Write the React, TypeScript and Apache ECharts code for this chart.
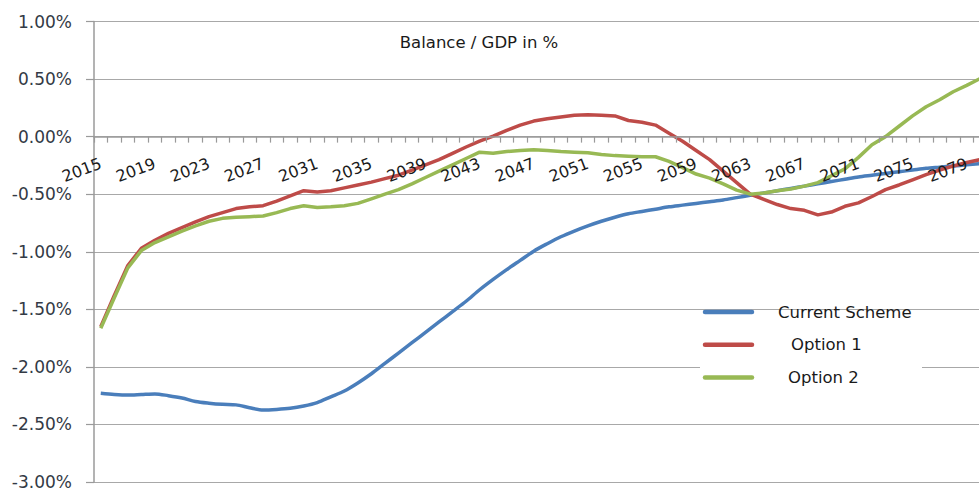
import React, { useEffect, useRef } from "react";
import * as echarts from "echarts";

const years = [
  "2015", "2016", "2017", "2018", "2019", "2020", "2021", "2022", "2023", "2024",
  "2025", "2026", "2027", "2028", "2029", "2030", "2031", "2032", "2033", "2034",
  "2035", "2036", "2037", "2038", "2039", "2040", "2041", "2042", "2043", "2044",
  "2045", "2046", "2047", "2048", "2049", "2050", "2051", "2052", "2053", "2054",
  "2055", "2056", "2057", "2058", "2059", "2060", "2061", "2062", "2063", "2064",
  "2065", "2066", "2067", "2068", "2069", "2070", "2071", "2072", "2073", "2074",
  "2075", "2076", "2077", "2078", "2079", "2080",
];

const currentScheme = [
  -2.23, -2.24, -2.245, -2.24, -2.235, -2.25, -2.27, -2.3, -2.315, -2.325,
  -2.33, -2.355, -2.375, -2.37, -2.36, -2.34, -2.31, -2.26, -2.21, -2.14,
  -2.06, -1.97, -1.88, -1.79, -1.7, -1.61, -1.52, -1.43, -1.33, -1.24,
  -1.155, -1.075, -0.995, -0.93, -0.87, -0.82, -0.775, -0.735, -0.7, -0.67,
  -0.65, -0.63, -0.61, -0.595, -0.58, -0.565, -0.55, -0.53, -0.51, -0.49,
  -0.47, -0.45, -0.43, -0.41, -0.39, -0.37, -0.35, -0.335, -0.32, -0.305,
  -0.29, -0.275, -0.265, -0.255, -0.245, -0.235,
];

const option1 = [
  -1.65, -1.38, -1.12, -0.97, -0.9, -0.84, -0.79, -0.74, -0.695, -0.66,
  -0.625, -0.61, -0.6, -0.56, -0.515, -0.47, -0.48, -0.47, -0.445, -0.42,
  -0.395, -0.365, -0.335, -0.29, -0.245, -0.2, -0.145, -0.09, -0.04, 0.005,
  0.055, 0.1, 0.135, 0.155, 0.17, 0.185, 0.19, 0.185, 0.18, 0.14,
  0.125, 0.1, 0.03, -0.04, -0.12, -0.2, -0.3, -0.4, -0.5, -0.545,
  -0.59, -0.625, -0.64, -0.68, -0.655, -0.605, -0.575, -0.52, -0.46, -0.42,
  -0.375, -0.33, -0.29, -0.255, -0.225, -0.2,
];

const option2 = [
  -1.665, -1.4, -1.14, -0.99, -0.92, -0.87, -0.82, -0.775, -0.735, -0.71,
  -0.7, -0.695, -0.69, -0.66, -0.625, -0.6, -0.615, -0.61, -0.6, -0.58,
  -0.54, -0.5, -0.46, -0.41, -0.355, -0.3, -0.245, -0.19, -0.135, -0.145,
  -0.13, -0.12, -0.115, -0.12, -0.13, -0.135, -0.14, -0.155, -0.165, -0.17,
  -0.175, -0.175, -0.215, -0.27, -0.325, -0.36, -0.41, -0.465, -0.5, -0.49,
  -0.47, -0.455, -0.43, -0.4, -0.34, -0.28, -0.18, -0.07, 0.0, 0.09,
  0.18, 0.26, 0.32, 0.39, 0.445, 0.505,
];

const seriesNames = ["Current Scheme", "Option 1", "Option 2"];
const seriesColors = ["#4A7EBB", "#BE4B48", "#98B954"];
const chartTitle = "Balance / GDP in %";
const yMin = -3;
const yMax = 1;
const yStep = 0.5;

const FONT = "'DejaVu Sans', sans-serif";

const W = 979;
const H = 488;
const GRID_TOP = 21.5;
const GRID_BOTTOM = 6;

export default function App() {
  const ref = useRef<HTMLDivElement>(null);

  useEffect(() => {
    if (!ref.current) return;
    const chart = echarts.init(ref.current, undefined, { renderer: "svg" });
    const allData = [currentScheme, option1, option2];
    const legendY = [312, 344.7, 377.5];
    const legendTextX = [778, 791, 788];

    // place the category axis on the zero line via an offset from the bottom edge
    const plotH = H - GRID_TOP - GRID_BOTTOM;
    const zeroFromBottom = ((0 - yMin) / (yMax - yMin)) * plotH;

    const legendGraphics: any[] = [
      {
        type: "rect",
        shape: { x: 700, y: 311, width: 222, height: 84 },
        style: { fill: "#ffffff" },
        z: 3,
        silent: true,
      },
    ];
    seriesNames.forEach((name, k) => {
      legendGraphics.push({
        type: "line",
        shape: { x1: 705, y1: legendY[k], x2: 752, y2: legendY[k] },
        style: { stroke: seriesColors[k], lineWidth: 4.5, lineCap: "round" },
        z: 4,
      });
      legendGraphics.push({
        type: "text",
        x: legendTextX[k],
        y: legendY[k],
        style: {
          text: name,
          fill: "#1a1a1a",
          font: `16.5px ${FONT}`,
          verticalAlign: "middle",
          textAlign: "left",
        },
        z: 4,
      });
    });

    chart.setOption({
      animation: false,
      backgroundColor: "#ffffff",
      title: {
        text: chartTitle,
        left: 479,
        top: 34,
        padding: 0,
        textAlign: "center",
        textStyle: {
          fontFamily: FONT,
          fontSize: 16.5,
          fontWeight: "normal",
          color: "#1a1a1a",
        },
      },
      grid: {
        left: 94,
        right: -8,
        top: GRID_TOP,
        bottom: GRID_BOTTOM,
        containLabel: false,
        outerBoundsMode: "none",
      },
      xAxis: {
        type: "category",
        data: years,
        position: "bottom",
        offset: -zeroFromBottom,
        boundaryGap: true,
        z: 5,
        axisLine: { onZero: false, lineStyle: { color: "#9a9a9a", width: 1.5 } },
        axisTick: {
          show: true,
          interval: 0,
          length: 6,
          inside: false,
          lineStyle: { color: "#9a9a9a", width: 1.2 },
        },
        axisLabel: {
          interval: 3,
          rotate: 21,
          margin: 26,
          fontFamily: FONT,
          fontSize: 16,
          color: "#1a1a1a",
        },
        splitLine: { show: false },
      },
      yAxis: {
        type: "value",
        min: yMin,
        max: yMax,
        interval: yStep,
        axisLine: { show: true, lineStyle: { color: "#9a9a9a", width: 1.5 } },
        axisTick: { show: true, length: 8, lineStyle: { color: "#9a9a9a", width: 1.2 } },
        axisLabel: {
          margin: 22,
          fontFamily: FONT,
          fontSize: 17,
          color: "#333a45",
          formatter: (v: number) => v.toFixed(2) + "%",
        },
        splitLine: { show: true, lineStyle: { color: "#a8a8a8", width: 1.2 } },
      },
      series: seriesNames.map((name, k) => ({
        name,
        type: "line",
        data: allData[k],
        showSymbol: false,
        smooth: k === 0 ? 0.3 : false,
        lineStyle: { color: seriesColors[k], width: 3.5 },
        itemStyle: { color: seriesColors[k] },
        z: 2 + k,
      })),
      graphic: legendGraphics,
    });

    return () => chart.dispose();
  }, []);

  return (
    <div
      ref={ref}
      style={{ position: "fixed", left: 0, top: 0, width: W, height: H }}
    />
  );
}
